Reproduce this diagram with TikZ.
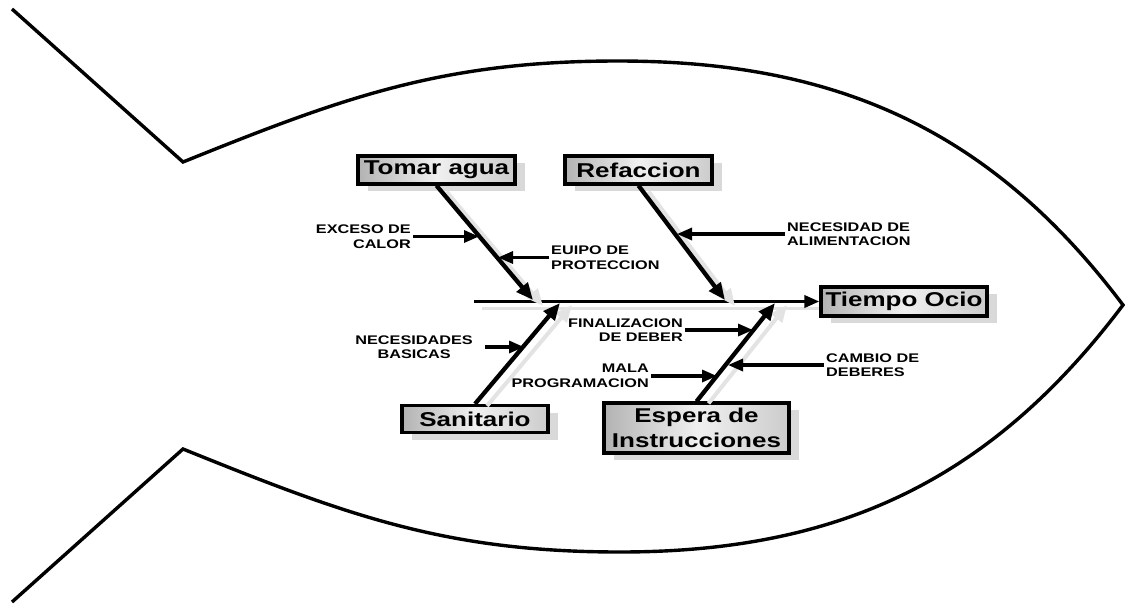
\documentclass[tikz,border=0pt]{standalone}
\usepackage{fontspec}
\setmainfont{Liberation Sans}
\newfontfamily\lab[FakeStretch=1.3]{Liberation Sans}
\usetikzlibrary{arrows.meta,shadows,calc}
\begin{document}
\begin{tikzpicture}[x=1pt,y=-1pt,
  fishline/.style={line width=3.4pt, line join=miter},
  cbox/.style={draw=black, line width=3.2pt, left color=gray!60, right color=gray!40, middle color=gray!12,
    drop shadow={shadow xshift=10pt, shadow yshift=-7pt, fill=gray!30, opacity=1},
    inner sep=0pt, align=center, font=\lab\bfseries\fontsize{20}{25}\selectfont},
  lbl/.style={font=\lab\bfseries\fontsize{12.5}{14.5}\selectfont, inner sep=2pt},
  bone/.style={line width=4.3pt, -{Triangle[length=17pt,width=14pt]}},
  boneshadow/.style={line width=4pt, draw=gray!22, -{Triangle[length=17pt,width=14pt,fill=gray!22]}},
  smallarrow/.style={line width=3.2pt, -{Triangle[length=15pt,width=12pt]}},
]
\useasboundingbox (0,0) rectangle (1125,603);

% fish outline
\draw[fishline] (12,9) -- (183,162) to[out=22,in=180] (618,61) to[out=0,in=127] (1123,305)
  to[out=-127,in=0] (620,552) to[out=180,in=-22] (183,449) -- (12,602);

% boxes
\node[cbox, minimum width=157pt, minimum height=28pt] (tomar) at (436.5,170) {Tomar agua};
\node[cbox, minimum width=147pt, minimum height=28pt] (refa) at (638.5,170) {Refaccion};
\node[cbox, minimum width=166pt, minimum height=29pt] (ocio) at (904,301.5) {Tiempo Ocio};
\node[cbox, minimum width=146pt, minimum height=27pt] (sani) at (475,419) {Sanitario};
\node[cbox, minimum width=185pt, minimum height=50pt] (espera) at (696.5,428) {Espera de\\Instrucciones};

% spine
\coordinate (sp0) at (474,301.5);
\draw[line width=3.4pt, gray!22] ([shift={(8,7)}]sp0) -- ([shift={(0,7)}]ocio.west);
\draw[line width=3.4pt, -{Triangle[length=15pt,width=12pt]}] (sp0) -- (ocio.west);

% branch tips
\coordinate (t1) at (533,300);
\coordinate (t2) at (725,300);
\coordinate (t3) at (560,303);
\coordinate (t4) at (775,303);

% branch shadows
\draw[boneshadow] ([shift={(10,6)}]tomar.south) -- ([shift={(10,6)}]t1);
\draw[boneshadow] ([shift={(10,6)}]refa.south) -- ([shift={(10,6)}]t2);
\draw[boneshadow] ([shift={(12,2)}]sani.north) -- ([shift={(12,2)}]t3);
\draw[boneshadow] ([shift={(12,2)}]espera.north) -- ([shift={(12,2)}]t4);

% branches
\draw[bone] (tomar.south) -- (t1);
\draw[bone] (refa.south) -- (t2);
\draw[bone] (sani.north) -- (t3);
\draw[bone] (espera.north) -- (t4);

% causes
\node[lbl, align=right, anchor=east] (exceso) at (413,236.5) {EXCESO DE\\CALOR};
\coordinate (a1) at (479,236.5);
\draw[smallarrow] (exceso.east) -- (a1);

\node[lbl, align=left, anchor=west] (euipo) at (549,257.5) {EUIPO DE\\PROTECCION};
\coordinate (a2) at (498,257.5);
\draw[smallarrow] (euipo.west) -- (a2);

\node[lbl, align=left, anchor=west] (alim) at (785,234) {NECESIDAD DE\\ALIMENTACION};
\coordinate (a3) at (677,234);
\draw[smallarrow] (alim.west) -- (a3);

\node[lbl, align=center, anchor=east] (basic) at (475,347) {NECESIDADES\\BASICAS};
\coordinate (a4) at (524,347);
\draw[smallarrow, shorten <=10pt] (basic.east) -- (a4);

\node[lbl, align=right, anchor=east] (final) at (685,330) {FINALIZACION\\DE DEBER};
\coordinate (a5) at (753,330);
\draw[smallarrow] (final.east) -- (a5);

\node[lbl, align=right, anchor=east] (mala) at (651,376) {MALA\\PROGRAMACION};
\coordinate (a6) at (717,376);
\draw[smallarrow] (mala.east) -- (a6);

\node[lbl, align=left, anchor=west] (cambio) at (824,365) {CAMBIO DE\\DEBERES};
\coordinate (a7) at (728,365);
\draw[smallarrow] (cambio.west) -- (a7);
\end{tikzpicture}
\end{document}
